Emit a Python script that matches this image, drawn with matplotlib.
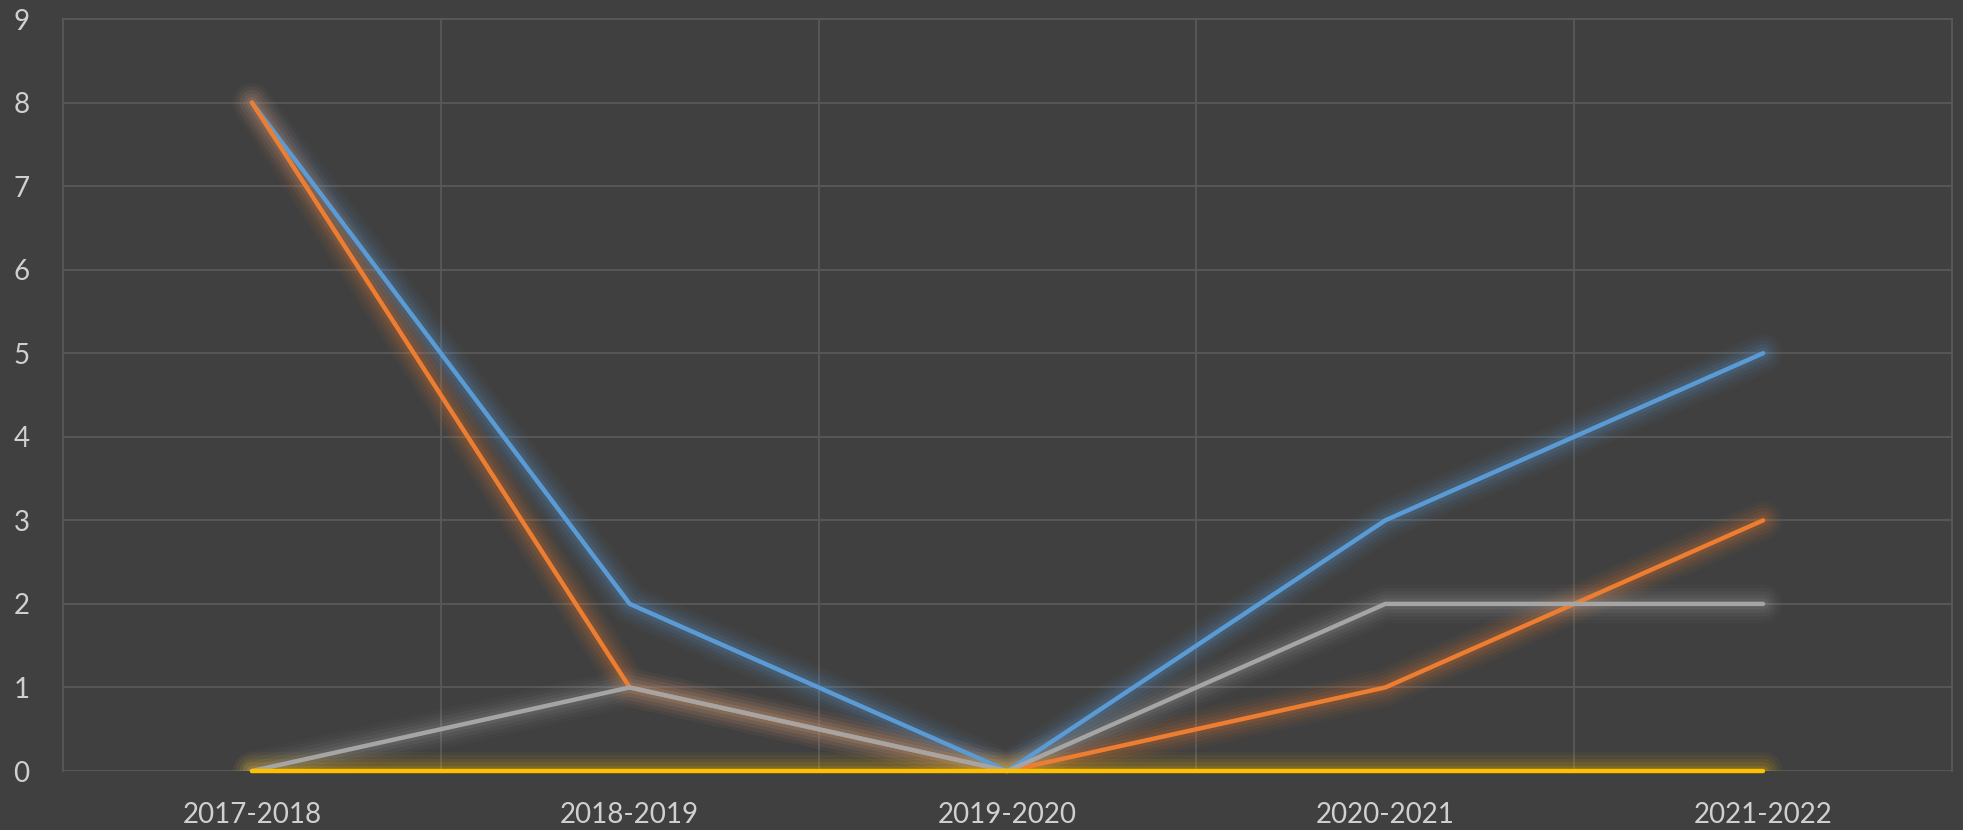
import matplotlib
matplotlib.use("Agg")
import matplotlib.pyplot as plt
import numpy as np

plt.rcParams['font.family'] = ['Lato', 'DejaVu Sans']

# values
seasons = ["2017-2018", "2018-2019", "2019-2020", "2020-2021", "2021-2022"]
blue_vals = [8, 2, 0, 3, 5]
orange_vals = [8, 1, 0, 1, 3]
gray_vals = [0, 1, 0, 2, 2]
yellow_vals = [0, 0, 0, 0, 0]
y_ticks = list(range(0, 10))

BG = "#404040"
GRID = "#595959"
TEXT = "#D0D0D0"
series = [
    (blue_vals, "#5B9BD5"),
    (orange_vals, "#ED7D31"),
    (gray_vals, "#A5A5A5"),
    (yellow_vals, "#FFC000"),
]

fig = plt.figure(figsize=(19.63, 8.30), dpi=100, facecolor=BG)
ax = fig.add_axes([63 / 1963, 59 / 830, (1952 - 63) / 1963, (771 - 19) / 830])
ax.set_facecolor(BG)

x = np.arange(len(seasons))
for vals, col in series:
    # soft glow underneath (clipped to the plot area, like the reference)
    for lw, a in [(28, 0.04), (23, 0.05), (18, 0.07), (13, 0.09), (8, 0.12)]:
        ax.plot(x, vals, color=col, lw=lw, alpha=a, solid_capstyle="round",
                solid_joinstyle="round", zorder=2)
    ax.plot(x, vals, color=col, lw=3.2, solid_capstyle="round",
            solid_joinstyle="round", zorder=3, clip_on=False)

ax.set_xlim(-0.5, len(seasons) - 0.5)
ax.set_ylim(0, 9)
ax.set_xticks(x)
ax.set_xticklabels(seasons)
ax.set_xticks(np.arange(0.5, len(seasons) - 1, 1.0), minor=True)
ax.set_yticks(y_ticks)

ax.grid(axis="y", which="major", color=GRID, lw=1.3)
ax.grid(axis="x", which="minor", color=GRID, lw=1.3)
ax.set_axisbelow(True)

for side in ["left", "right", "top"]:
    ax.spines[side].set_color(GRID)
    ax.spines[side].set_linewidth(1.3)
ax.spines["bottom"].set_visible(False)

ax.tick_params(axis="both", which="both", length=0, colors=TEXT)
ax.tick_params(axis="y", labelsize=20, pad=24)
ax.tick_params(axis="x", labelsize=20, pad=22)

fig.savefig("out.png", dpi=100, facecolor=BG)
